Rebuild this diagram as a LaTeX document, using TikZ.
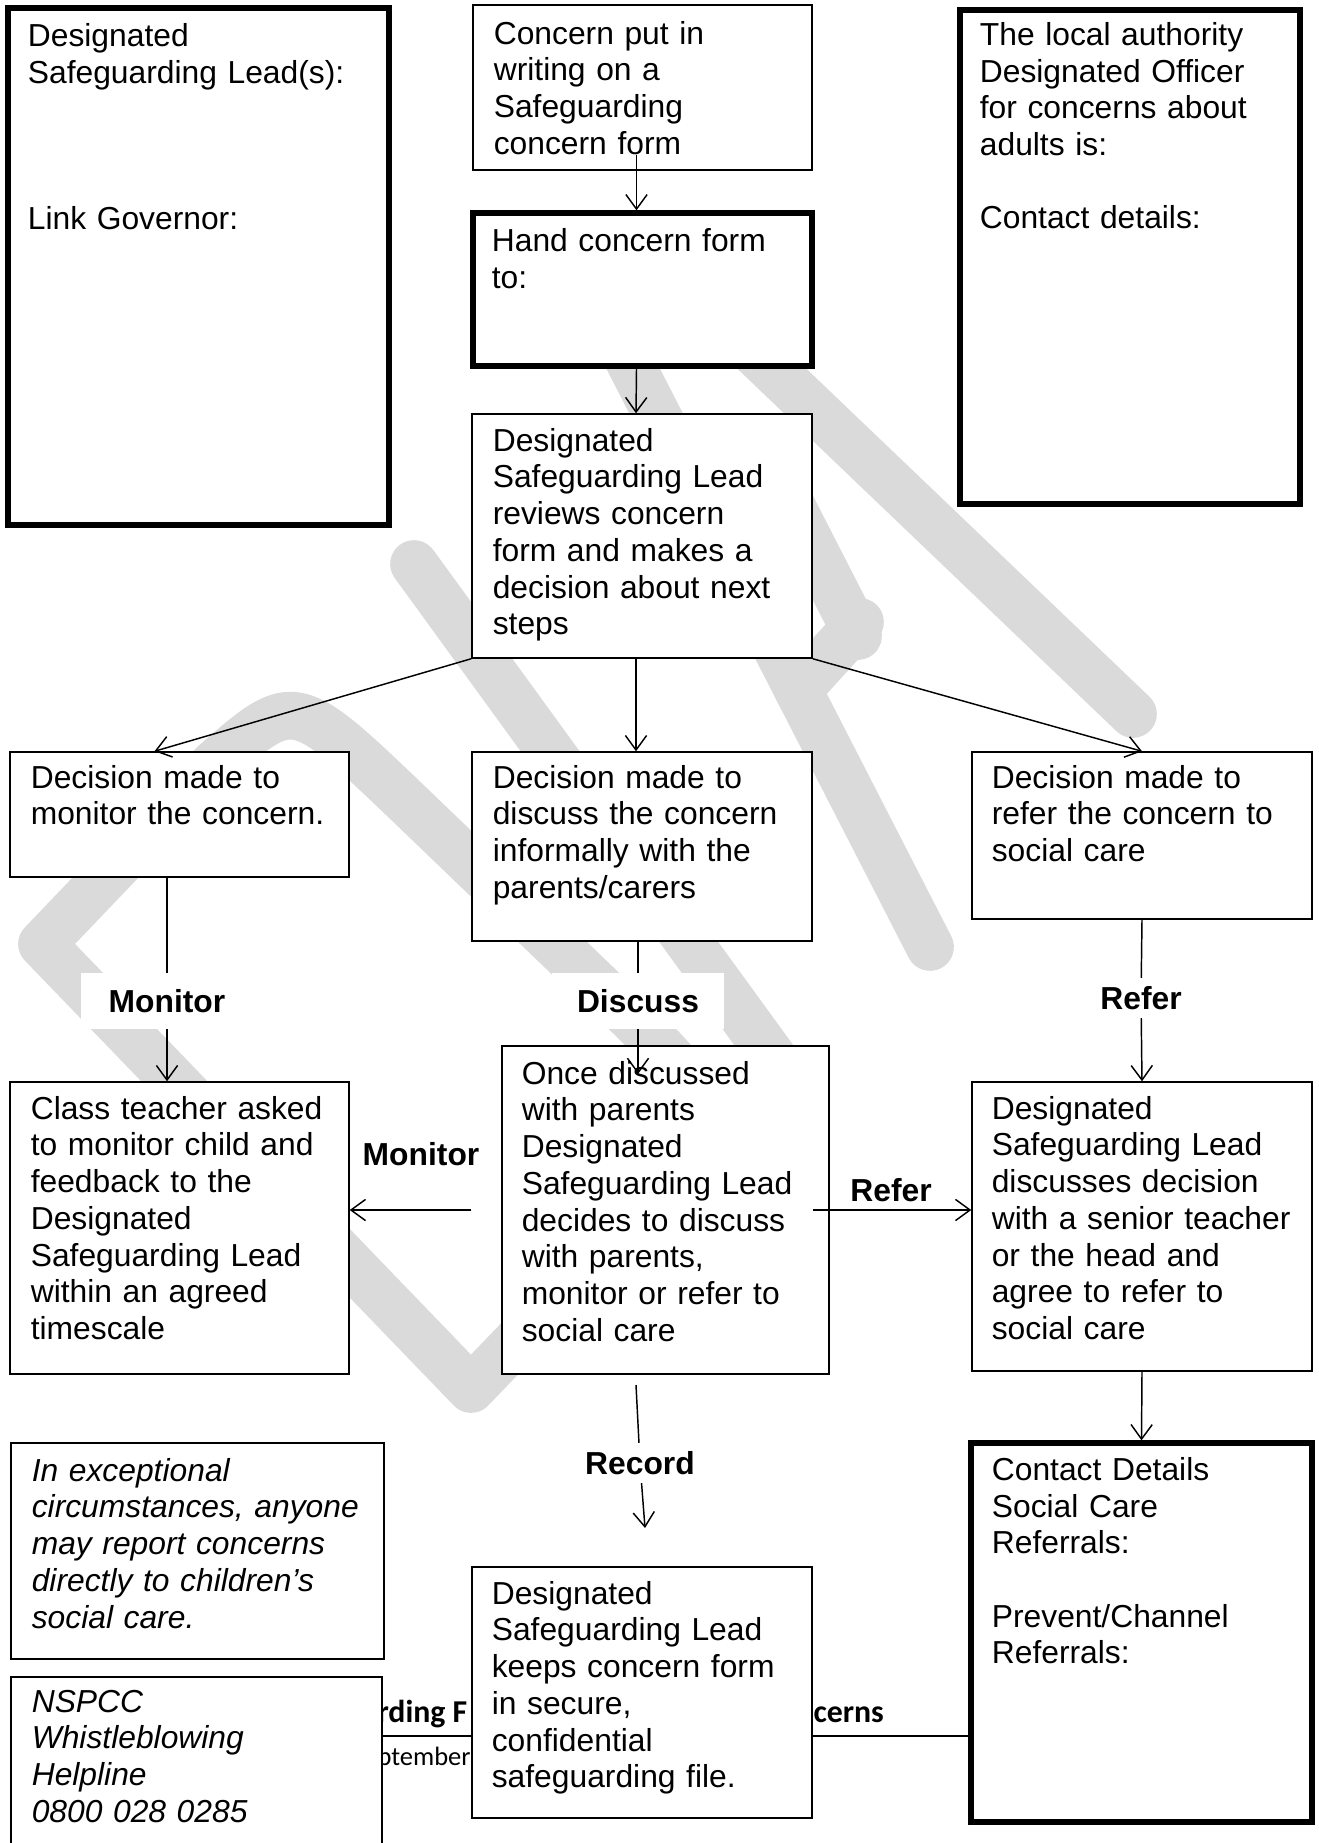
\documentclass[tikz,border=0pt]{standalone}
\usepackage{fontspec}
\setmainfont{Liberation Sans}
\newfontfamily\footfont{Carlito}
\usetikzlibrary{fit,arrows.meta}
\definecolor{wmgray}{RGB}{218,218,218}
\pgfdeclarelayer{background}
\pgfsetlayers{background,main}

\begin{document}
\begin{tikzpicture}[x=0.3774pt, y=-0.3774pt,
    every node/.style={inner sep=0pt},
    box/.style={draw, fill=white, line width=0.55pt},
    thickbox/.style={box, line width=2pt},
    txt/.style={anchor=base west, align=left, text width=150pt,
      font=\fontsize{12}{13.85}\selectfont},
    lbl/.style={inner sep=1pt, font=\fontsize{12}{13.85}\selectfont\bfseries},
    cut/.style={lbl, fill=white, inner sep=3pt},
    arr/.style={line width=0.55pt, -{Straight Barb[length=5.5pt,width=8pt]}},
    wm/.style={draw=wmgray, line width=18pt, line cap=round, line join=round}
  ]
\useasboundingbox (0,0) rectangle (1318,1843);

% top row
\node[thickbox, fit={(8,8) (389,525)}] (dsl) {};
\node[txt] (dsl-t) at ([shift={(22,41)}]dsl.north west)
  {Designated\\Safeguarding Lead(s):\\[3\baselineskip]Link Governor:};
\node[box, fit={(473,5) (812,170)}] (concern) {};
\node[txt] (concern-t) at ([shift={(21,40)}]concern.north west)
  {Concern put in\\writing on a\\Safeguarding\\concern form};
\node[thickbox, fit={(473,213) (812,366)}] (hand) {};
\node[txt] (hand-t) at ([shift={(21,41)}]hand.north west) {Hand concern form\\to:};
\node[thickbox, fit={(960,10) (1300,504)}] (la) {};
\node[txt] (la-t) at ([shift={(22,38)}]la.north west)
  {The local authority\\Designated Officer\\for concerns about\\adults is:\\[\baselineskip]Contact details:};
\node[box, fit={(472,414) (812,658)}] (reviews) {};
\node[txt] (reviews-t) at ([shift={(21,38)}]reviews.north west)
  {Designated\\Safeguarding Lead\\reviews concern\\form and makes a\\decision about next\\steps};

% decisions
\node[box, fit={(10,752) (349,877)}] (mondec) {};
\node[txt] (mondec-t) at ([shift={(21,37)}]mondec.north west) {Decision made to\\monitor the concern.};
\node[box, fit={(472,752) (812,941)}] (discdec) {};
\node[txt] (discdec-t) at ([shift={(21,37)}]discdec.north west)
  {Decision made to\\discuss the concern\\informally with the\\parents/carers};
\node[box, fit={(972,752) (1312,919)}] (refdec) {};
\node[txt] (refdec-t) at ([shift={(20,37)}]refdec.north west)
  {Decision made to\\refer the concern to\\social care};

% outcomes
\node[box, fit={(10,1082) (349,1374)}] (teacher) {};
\node[txt] (teacher-t) at ([shift={(21,38)}]teacher.north west)
  {Class teacher asked\\to monitor child and\\feedback to the\\Designated\\Safeguarding Lead\\within an agreed\\timescale};
\node[box, fit={(502,1046) (829,1374)}] (once) {};
\node[txt] (once-t) at ([shift={(20,39)}]once.north west)
  {Once discussed\\with parents\\Designated\\Safeguarding Lead\\decides to discuss\\with parents,\\monitor or refer to\\social care};
\node[box, fit={(972,1082) (1312,1371)}] (agree) {};
\node[txt] (agree-t) at ([shift={(20,38)}]agree.north west)
  {Designated\\Safeguarding Lead\\discusses decision\\with a senior teacher\\or the head and\\agree to refer to\\social care};

% bottom row
\node[box, fit={(11,1443) (384,1659)}] (except) {};
\node[txt, font=\fontsize{12}{13.85}\selectfont\itshape] (except-t) at ([shift={(21,39)}]except.north west)
  {In exceptional\\circumstances, anyone\\may report concerns\\directly to children’s\\social care.};
\node[box, fit={(11,1677) (382,1870)}] (nspcc) {};
\node[txt, font=\fontsize{12}{13.85}\selectfont\itshape] (nspcc-t) at ([shift={(21,36)}]nspcc.north west)
  {NSPCC\\Whistleblowing\\Helpline\\0800 028 0285};
\node[box, fit={(472,1567) (812,1818)}] (keep) {};
\node[txt] (keep-t) at ([shift={(20,38)}]keep.north west)
  {Designated\\Safeguarding Lead\\keeps concern form\\in secure,\\confidential\\safeguarding file.};
\node[thickbox, fit={(971,1443) (1312,1822)}] (contact) {};
\node[txt] (contact-t) at ([shift={(23,40)}]contact.north west)
  {Contact Details\\Social Care\\Referrals:\\[\baselineskip]Prevent/Channel\\Referrals:};

% connectors
\draw[arr] ([shift={(-6,-16)}]concern.south) -- ([shift={(-6,0)}]hand.north);
\draw[arr] ([shift={(-6,0)}]hand.south) -- ([shift={(-6,0)}]reviews.north);
\draw[arr] (reviews.south west) -- ([shift={(-25,0)}]mondec.north);
\draw[arr] ([shift={(-6,0)}]reviews.south) -- ([shift={(-6,0)}]discdec.north);
\draw[arr] (reviews.south east) -- (refdec.north);

\node[cut, minimum width=65pt, minimum height=20.8pt] (mon-a) at (167,1001) {Monitor};
\draw[arr] (mondec.south -| mon-a) -- (mon-a) -- (teacher.north -| mon-a);
\node[cut, minimum width=65pt, minimum height=20.8pt] (disc) at (638,1001) {Discuss};
\coordinate (disc-end) at (638,1074);
\draw[arr] (discdec.south -| disc) -- (disc) -- (disc-end);
\node[cut] (ref-a) at (1141,998) {Refer};
\draw[arr] (refdec.south) -- (ref-a) -- (agree.north);

\draw[arr] ([shift={(-30,0)}]once.west) -- (teacher.east |- once.west);
\node[lbl] (mon-b) at (421,1154) {Monitor};
\draw[arr] ([shift={(-17,0)}]once.east) -- (agree.west |- once.east);
\node[lbl] (ref-b) at (891,1190) {Refer};

\coordinate (rec-a) at (636,1385);
\coordinate (rec-b) at (645,1528);
\node[cut] (rec) at (640,1463) {Record};
\draw[arr] (rec-a) -- (rec) -- (rec-b);
\draw[arr] (agree.south) -- (contact.north);

\begin{pgfonlayer}{background}
  % watermark
  \draw[wm] (471,1389) -- (42,944) -- (214,764) .. controls (294,694) .. (409,804)
    -- (589,977) .. controls (733,1115) .. (644,1209) -- cycle;
  \draw[wm] (414,564) -- (800,1095);
  \draw[wm] (622,347) -- (930,947);
  \draw[wm] (798,690) -- (860,622);
  \draw[wm] (773,470) -- (858,636);
  \draw[wm] (700,300) -- (1133,714);
  % page footer
  \coordinate (foot) at (0,1736);
  \draw[line width=0.6pt] (nspcc.east |- foot) -- (contact.west |- foot);
  \node[anchor=base west, font=\footfont\bfseries\fontsize{12}{14}\selectfont] (foot-a) at (377,1722) {rding F};
  \node[anchor=base west, font=\footfont\bfseries\fontsize{12}{14}\selectfont] (foot-b) at (813,1722) {cerns};
  \node[anchor=base west, font=\footfont\fontsize{10}{12}\selectfont] (foot-c) at (377,1765) {ptember};
\end{pgfonlayer}
\end{tikzpicture}
\end{document}
